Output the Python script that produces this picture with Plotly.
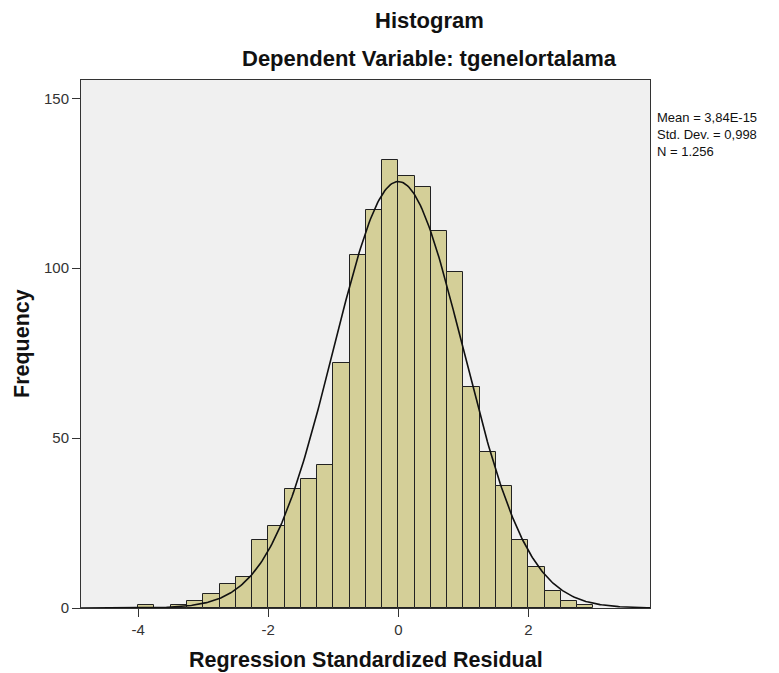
import numpy as np
import plotly.graph_objects as go

# Histogram bins (lower edges, width 0.25) and frequencies
bin_lower = [-4.0, -3.75, -3.5, -3.25, -3.0, -2.75, -2.5, -2.25, -2.0, -1.75, -1.5, -1.25,
             -1.0, -0.75, -0.5, -0.25, 0.0, 0.25, 0.5, 0.75, 1.0, 1.25, 1.5, 1.75,
             2.0, 2.25, 2.5, 2.75]
counts = [1, 0, 1, 2, 4, 7, 9, 20, 24, 35, 38, 42,
          72, 104, 117, 132, 127, 124, 111, 99, 65, 46, 36, 20,
          12, 5, 2, 1]
bin_width = 0.25

# Summary statistics (from legend)
mean_val = 3.84e-15
std_val = 0.998
n_val = 1256

x_ticks = [-4, -2, 0, 2]
y_ticks = [0, 50, 100, 150]

centers = [b + bin_width / 2 for b in bin_lower]

fig = go.Figure()
fig.add_trace(go.Bar(
    x=centers, y=counts, width=[bin_width] * len(counts),
    marker=dict(color="#D4CF98", line=dict(color="#222222", width=1)),
    showlegend=False, hoverinfo="x+y",
))

xs = np.linspace(-4.88, 3.87, 400)
ys = n_val * bin_width / (std_val * np.sqrt(2 * np.pi)) * np.exp(-0.5 * ((xs - mean_val) / std_val) ** 2)
fig.add_trace(go.Scatter(x=xs, y=ys, mode="lines",
                         line=dict(color="#111111", width=1.6), showlegend=False))

font_family = "Liberation Sans, Arial, sans-serif"

fig.update_layout(
    width=771, height=665,
    margin=dict(l=73, r=129, t=72, b=65),
    paper_bgcolor="white",
    plot_bgcolor="#F0F0F0",
    bargap=0,
    font=dict(family=font_family, color="#333333"),
    xaxis=dict(
        range=[-4.88, 3.87], tickvals=x_ticks, ticktext=[str(v) for v in x_ticks],
        showgrid=False, zeroline=False, showline=True, linecolor="#333333", linewidth=1,
        mirror=True, ticks="outside", ticklen=8, tickcolor="#333333",
        tickfont=dict(size=15, color="#333333"),
    ),
    yaxis=dict(
        range=[0, 155.4], tickvals=y_ticks, ticktext=[str(v) for v in y_ticks],
        showgrid=False, zeroline=False, showline=True, linecolor="#333333", linewidth=1,
        mirror=True, ticks="outside", ticklen=8, tickcolor="#333333",
        tickfont=dict(size=15, color="#333333"),
    ),
    annotations=[
        dict(text="<b>Histogram</b>", xref="paper", yref="paper", x=0.613, y=1.0,
             yshift=60, xanchor="center", yanchor="middle", showarrow=False,
             font=dict(size=22, color="#111111")),
        dict(text="<b>Dependent Variable: tgenelortalama</b>", xref="paper", yref="paper",
             x=0.613, y=1.0, yshift=22, xanchor="center", yanchor="middle", showarrow=False,
             font=dict(size=22, color="#111111")),
        dict(text="<b>Regression Standardized Residual</b>", xref="paper", yref="paper",
             x=0.5, y=0.0, yshift=-52, xanchor="center", yanchor="middle", showarrow=False,
             font=dict(size=21.5, color="#111111")),
        dict(text="<b>Frequency</b>", xref="paper", yref="paper", textangle=-90,
             x=0.0, y=0.5, xshift=-59, xanchor="center", yanchor="middle", showarrow=False,
             font=dict(size=21.5, color="#111111")),
        dict(text="Mean = 3,84E-15<br>Std. Dev. = 0,998<br>N = 1.256",
             xref="paper", yref="paper", x=1.0, y=1.0, xshift=5, yshift=-28,
             xanchor="left", yanchor="top", align="left", showarrow=False,
             font=dict(size=13, color="#111111")),
    ],
)

fig.write_html("out.html")
